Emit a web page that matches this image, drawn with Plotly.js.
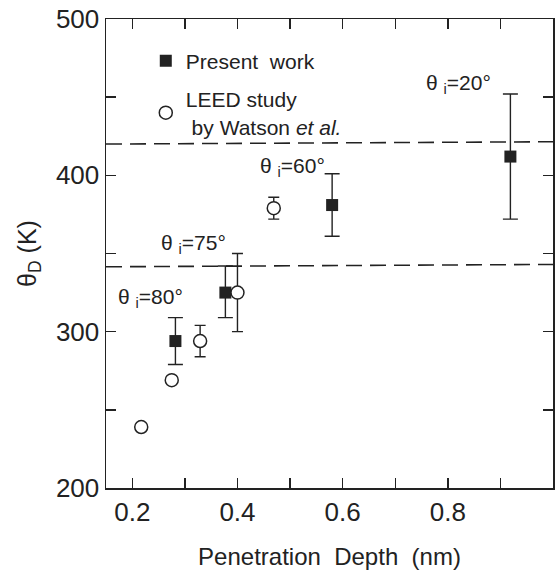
<!DOCTYPE html>
<html>
<head>
<meta charset="utf-8">
<script src="https://cdn.plot.ly/plotly-3.0.1.min.js"></script>
<style>html,body{margin:0;padding:0;background:#fff;}#chart{width:556px;height:577px;}</style>
</head>
<body>
<div id="chart"></div>
<script>
// Present work (filled squares)
const presentX = [0.282, 0.377, 0.580, 0.919];
const presentY = [294, 325, 381, 412];
const presentErrPlus = [15, 17, 20, 40];
const presentErrMinus = [15, 16, 20, 40];

// LEED study by Watson et al. (open circles)
const leedX = [0.217, 0.275, 0.329, 0.400, 0.469];
const leedY = [239, 269, 294, 325, 379];
const leedErrPlus = [0, 0, 10, 25, 7];
const leedErrMinus = [0, 0, 10, 25, 7];

// dashed reference lines
const dashX = [0.15, 1.0];
const upperDashY = [420, 421.5];
const lowerDashY = [341.5, 343];

// angle labels
const angleLabels = ['θ <sub>i</sub>=20°', 'θ <sub>i</sub>=60°', 'θ <sub>i</sub>=75°', 'θ <sub>i</sub>=80°'];
const angleLabelX = [0.820, 0.504, 0.316, 0.234];
const angleLabelY = [458.6, 405.6, 356, 321.8];

// ticks
const xTickVals = [0.2, 0.4, 0.6, 0.8, 1.0];
const xTickText = ['0.2', '0.4', '0.6', '0.8', '1'];
const xMinorVals = [0.3, 0.5, 0.7, 0.9];
const yTickVals = [200, 300, 400, 500];
const yTickText = ['200', '300', '400', '500'];
const yMinorVals = [250, 350, 450];

const ink = '#222';
const font = 'Liberation Sans, Arial, Helvetica, sans-serif';

const traces = [
  {x: dashX, y: upperDashY, mode: 'lines', showlegend: false, hoverinfo: 'skip',
   line: {color: ink, width: 1.6, dash: '16px,8px'}},
  {x: dashX, y: lowerDashY, mode: 'lines', showlegend: false, hoverinfo: 'skip',
   line: {color: ink, width: 1.6, dash: '16px,8px'}},
  {x: presentX, y: presentY, mode: 'markers', name: 'Present&nbsp; work', legendgroup: 'a',
   marker: {symbol: 'square', size: 12, color: ink, line: {width: 0}},
   error_y: {type: 'data', symmetric: false, array: presentErrPlus, arrayminus: presentErrMinus,
             color: ink, thickness: 1.4, width: 7.5}},
  {x: leedX, y: leedY, mode: 'markers', name: 'LEED study<br> by Watson <i>et al.</i>', legendgroup: 'b',
   marker: {symbol: 'circle', size: 13, color: '#fff', line: {color: ink, width: 1.5}},
   error_y: {type: 'data', symmetric: false, array: leedErrPlus, arrayminus: leedErrMinus,
             color: ink, thickness: 1.4, width: 5.5}}
];

const annotations = angleLabels.map((t, i) => ({
  x: angleLabelX[i], y: angleLabelY[i], xref: 'x', yref: 'y', text: t,
  showarrow: false, xanchor: 'center', yanchor: 'middle',
  font: {family: font, size: 21, color: ink}
}));

const layout = {
  width: 556, height: 577,
  margin: {l: 106, r: 3, t: 19, b: 89, pad: 0},
  paper_bgcolor: '#fff', plot_bgcolor: '#fff',
  font: {family: font, color: ink},
  showlegend: true,
  legend: {x: 0.089, y: 0.954, xanchor: 'left', yanchor: 'top', bgcolor: 'rgba(0,0,0,0)',
           font: {family: font, size: 21, color: ink}, valign: 'middle',
           traceorder: 'grouped', tracegroupgap: 8},
  xaxis: {
    range: [0.15, 1.0], showline: true, linecolor: ink, linewidth: 1.5, mirror: 'ticks',
    showgrid: false, zeroline: false,
    ticks: 'inside', ticklen: 10, tickwidth: 1.4, tickcolor: ink,
    tickmode: 'array', tickvals: xTickVals, ticktext: xTickText,
    minor: {tickmode: 'array', tickvals: xMinorVals, ticks: 'inside', ticklen: 10, tickwidth: 1.4, tickcolor: ink},
    tickfont: {family: font, size: 26, color: ink},
    title: {text: 'Penetration&nbsp; Depth&nbsp; (nm)', font: {family: font, size: 24, color: ink}, standoff: 22}
  },
  yaxis: {
    range: [200, 500], showline: true, linecolor: ink, linewidth: 1.5, mirror: 'ticks',
    showgrid: false, zeroline: false,
    ticks: 'inside', ticklen: 10, tickwidth: 1.4, tickcolor: ink,
    tickmode: 'array', tickvals: yTickVals, ticktext: yTickText,
    minor: {tickmode: 'array', tickvals: yMinorVals, ticks: 'inside', ticklen: 10, tickwidth: 1.4, tickcolor: ink},
    tickfont: {family: font, size: 26, color: ink},
    title: {text: 'θ<sub>D</sub> (K)', font: {family: font, size: 25, color: ink}, standoff: 12}
  },
  annotations: annotations
};

Plotly.newPlot('chart', traces, layout, {displayModeBar: false, staticPlot: true});
</script>
</body>
</html>
